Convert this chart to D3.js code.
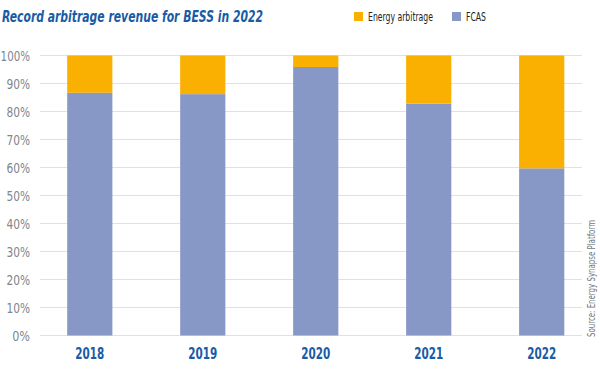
<!DOCTYPE html>
<html>
<head>
<meta charset="utf-8">
<script src="https://cdn.jsdelivr.net/npm/d3@7"></script>
<style>
  body { margin: 0; background: #fff; }
  svg { display: block; }
  text { font-family: "DejaVu Sans", sans-serif; font-stretch: condensed; }
</style>
</head>
<body>
<svg id="canvas" width="600" height="381"></svg>
<script>
const years = ["2018", "2019", "2020", "2021", "2022"];
const fcas = [86.7, 86.2, 95.9, 82.8, 59.7];
const arbitrage = [13.3, 13.8, 4.1, 17.2, 40.3];
const yTicks = [0, 10, 20, 30, 40, 50, 60, 70, 80, 90, 100];

const orange = "#f9b000";
const lilac = "#8797c6";
const blue = "#1a5ba6";

let canvas = d3.select("#canvas");

let x = d3.scaleBand()
  .domain(years)
  .range([33.3, 598.2])
  .paddingInner(0.6)
  .paddingOuter(0.3);

let y = d3.scaleLinear()
  .domain([0, 100])
  .range([335.5, 55.5]);

// grid lines
canvas.append("g")
  .selectAll("line")
  .data(yTicks)
  .enter()
  .append("line")
  .attr("x1", 40)
  .attr("x2", 582)
  .attr("y1", (d) => y(d))
  .attr("y2", (d) => y(d))
  .attr("stroke", "#dfe1ea")
  .attr("stroke-width", 1);

// tick labels (narrow font, squeezed to the reference widths)
canvas.append("g")
  .selectAll("text")
  .data(yTicks)
  .enter()
  .append("text")
  .attr("x", 30)
  .attr("y", (d) => y(d) + 5)
  .attr("text-anchor", "end")
  .attr("font-size", 14.5)
  .attr("fill", "#7d8790")
  .attr("textLength", (d) => String(d).length * 5.8 + 12)
  .attr("lengthAdjust", "spacingAndGlyphs")
  .text((d) => d + "%");

// stacked bars
let stack = d3.stack().keys(["fcas", "arbitrage"]);
let rows = years.map((yr, i) => ({ year: yr, fcas: fcas[i], arbitrage: arbitrage[i] }));
let series = stack(rows);
let colors = { fcas: lilac, arbitrage: orange };

canvas.append("g")
  .selectAll("g")
  .data(series)
  .enter()
  .append("g")
  .attr("fill", (s) => colors[s.key])
  .selectAll("rect")
  .data((s) => s)
  .enter()
  .append("rect")
  .attr("x", (d) => x(d.data.year))
  .attr("width", x.bandwidth())
  .attr("y", (d) => y(d[1]))
  .attr("height", (d) => y(d[0]) - y(d[1]));

// x labels
canvas.append("g")
  .selectAll("text")
  .data(years)
  .enter()
  .append("text")
  .attr("x", (d) => x(d) + x.bandwidth() / 2)
  .attr("y", 359)
  .attr("text-anchor", "middle")
  .attr("font-size", 16)
  .attr("font-weight", "bold")
  .attr("fill", blue)
  .attr("textLength", 29)
  .attr("lengthAdjust", "spacingAndGlyphs")
  .text((d) => d);

// title
canvas.append("text")
  .attr("x", 2)
  .attr("y", 22)
  .attr("font-size", 16)
  .attr("font-weight", "bold")
  .attr("font-style", "italic")
  .attr("fill", blue)
  .attr("textLength", 261)
  .attr("lengthAdjust", "spacingAndGlyphs")
  .text("Record arbitrage revenue for BESS in 2022");

// legend
let legendItems = [
  { label: "Energy arbitrage", color: orange, x: 354, w: 65 },
  { label: "FCAS", color: lilac, x: 452, w: 20 }
];
let legend = canvas.append("g")
  .selectAll("g")
  .data(legendItems)
  .enter()
  .append("g")
  .attr("transform", (d) => `translate(${d.x},0)`);
legend.append("rect")
  .attr("x", 0)
  .attr("y", 12)
  .attr("width", 9)
  .attr("height", 9)
  .attr("fill", (d) => d.color);
legend.append("text")
  .attr("x", 14)
  .attr("y", 21)
  .attr("font-size", 11.5)
  .attr("fill", "#222")
  .attr("textLength", (d) => d.w)
  .attr("lengthAdjust", "spacingAndGlyphs")
  .text((d) => d.label);

// source
canvas.append("text")
  .attr("transform", "translate(595,337) rotate(-90)")
  .attr("font-size", 10)
  .attr("fill", "#6f7780")
  .attr("textLength", 117)
  .attr("lengthAdjust", "spacingAndGlyphs")
  .text("Source: Energy Synapse Platform");
</script>
</body>
</html>
